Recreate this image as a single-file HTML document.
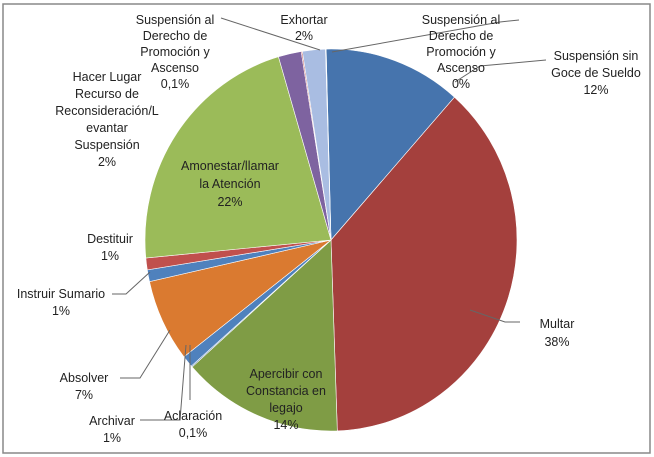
<!DOCTYPE html>
<html><head><meta charset="utf-8"><style>
body{margin:0;background:#fff;}
svg{display:block;font-family:"Liberation Sans",sans-serif;}
text{font-size:12.5px;fill:#222;text-anchor:middle;}
</style></head><body>
<svg width="654" height="457">
<rect x="3" y="4" width="647" height="449" fill="#fff" stroke="#888" stroke-width="1.5"/>
<g id="slices"></g>
<g id="leaders" stroke="#666" fill="none" stroke-width="1">
<polyline points="221,18 320,50"/>
<polyline points="519,20 500,22 332,52"/>
<polyline points="546,60 480,66 455,82"/>
<polyline points="520,322 505,322 470,310"/>
<polyline points="190,400 190,345"/>
<polyline points="140,420 180,420 186,345"/>
<polyline points="120,378 140,378 170,330"/>
<polyline points="112,294 126,294 150,272"/>
</g>
<g id="labels">
<text><tspan x="175" y="24">Suspensión al</tspan><tspan x="175" y="40">Derecho de</tspan><tspan x="175" y="56">Promoción y</tspan><tspan x="175" y="72">Ascenso</tspan><tspan x="175" y="88">0,1%</tspan></text>
<text><tspan x="304" y="24">Exhortar</tspan><tspan x="304" y="40">2%</tspan></text>
<text><tspan x="461" y="24">Suspensión al</tspan><tspan x="461" y="40">Derecho de</tspan><tspan x="461" y="56">Promoción y</tspan><tspan x="461" y="72">Ascenso</tspan><tspan x="461" y="88">0%</tspan></text>
<text><tspan x="596" y="60">Suspensión sin</tspan><tspan x="596" y="77">Goce de Sueldo</tspan><tspan x="596" y="94">12%</tspan></text>
<text><tspan x="107" y="81">Hacer Lugar</tspan><tspan x="107" y="98">Recurso de</tspan><tspan x="107" y="115">Reconsideración/L</tspan><tspan x="107" y="132">evantar</tspan><tspan x="107" y="149">Suspensión</tspan><tspan x="107" y="166">2%</tspan></text>
<text><tspan x="230" y="170">Amonestar/llamar</tspan><tspan x="230" y="188">la Atención</tspan><tspan x="230" y="206">22%</tspan></text>
<text><tspan x="110" y="243">Destituir</tspan><tspan x="110" y="260">1%</tspan></text>
<text><tspan x="61" y="298">Instruir Sumario</tspan><tspan x="61" y="315">1%</tspan></text>
<text><tspan x="84" y="382">Absolver</tspan><tspan x="84" y="399">7%</tspan></text>
<text><tspan x="112" y="425">Archivar</tspan><tspan x="112" y="442">1%</tspan></text>
<text><tspan x="193" y="420">Aclaración</tspan><tspan x="193" y="437">0,1%</tspan></text>
<text><tspan x="286" y="378">Apercibir con</tspan><tspan x="286" y="395">Constancia en</tspan><tspan x="286" y="412">legajo</tspan><tspan x="286" y="429">14%</tspan></text>
<text><tspan x="557" y="328">Multar</tspan><tspan x="557" y="346">38%</tspan></text>
</g>
</svg>
<script>
const categories=["Suspensión sin Goce de Sueldo","Multar","Apercibir con Constancia en legajo","Aclaración","Archivar","Absolver","Instruir Sumario","Destituir","Amonestar/llamar la Atención","Hacer Lugar Recurso","Suspensión al Derecho (0,1%)","Exhortar","Suspensión al Derecho (0%)"];
const values=[12,38,14,0.1,1,7,1,1,22,2,0.1,2,0.05];
const colors=["#4674AD","#A4403D","#7F9C45","#4674AD","#4F81BD","#DA7A30","#4F81BD","#C0504D","#9BBB59","#7E63A0","#C0504D","#A9BDE2","#4BACC6"];
const cx=331,cy=240,rx=186,ry=191,start=-1.5;
const total=values.reduce((a,b)=>a+b,0);
function pt(deg){const r=deg*Math.PI/180;return [cx+rx*Math.sin(r),cy-ry*Math.cos(r)];}
const g=document.getElementById('slices');
let acc=start;
values.forEach((v,i)=>{
  const sweep=v/total*360;
  const a0=acc,a1=acc+sweep;acc=a1;
  const p0=pt(a0),p1=pt(a1);
  const large=sweep>180?1:0;
  const p=document.createElementNS('http://www.w3.org/2000/svg','path');
  p.setAttribute('d',`M${cx},${cy} L${p0[0]},${p0[1]} A${rx},${ry} 0 ${large} 1 ${p1[0]},${p1[1]} Z`);
  p.setAttribute('fill',colors[i]);
  p.setAttribute('stroke','#fff');
  p.setAttribute('stroke-width','0.6');
  
  
  g.appendChild(p);
});
</script>
</body></html>
